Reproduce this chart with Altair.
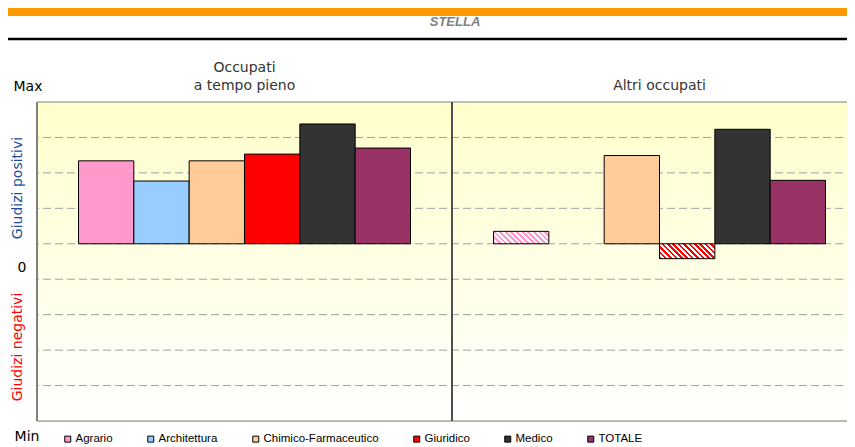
import altair as alt
import pandas as pd

# ---------------- data ----------------
categories = ["Agrario", "Architettura", "Chimico-Farmaceutico", "Giuridico", "Medico", "TOTALE"]
colors = ["#FF99CC", "#99CCFF", "#FFCC99", "#FF0000", "#333333", "#993366"]
panel_keys = ["Occupati a tempo pieno", "Altri occupati"]
panel_titles = ["Occupati\na tempo pieno", "Altri occupati"]
values_pieno = [2.34, 1.77, 2.34, 2.53, 3.38, 2.70]
values_altri = [0.35, None, 2.49, -0.42, 3.23, 1.79]
hatched_altri = ["Agrario", "Giuridico"]
grid_values = [-4, -3, -2, -1, 0, 1, 2, 3]
y_min, y_max = -5, 4

main_title = "STELLA"
label_max = "Max"
label_zero = "0"
label_min = "Min"
label_pos = "Giudizi positivi"
label_neg = "Giudizi negativi"

# ---------------- layout ----------------
PANEL_W = 415
W, H = 2 * PANEL_W, 319          # plot runs past the right edge of the canvas, as in the original
unit_px = H / (y_max - y_min)
bar_w = PANEL_W / (len(categories) + 1.5)
FONT = "DejaVu Sans"
LEG_FONT = "Liberation Sans"

rows = []
for pk, vals in zip(panel_keys, [values_pieno, values_altri]):
    for c, v in zip(categories, vals):
        if v is None:
            continue
        hatched = (pk == panel_keys[1]) and (c in hatched_altri)
        rows.append({"panel": pk, "category": c, "value": v, "hatched": hatched})
bars = pd.DataFrame(rows)
panels = pd.DataFrame({"panel": panel_keys, "title": panel_titles})
grid = pd.DataFrame({"v": grid_values})
borders = pd.DataFrame({"v": [y_min, y_max]})
one = pd.DataFrame({"a": [0]})

x_scale = alt.Scale(domain=panel_keys, paddingInner=0, paddingOuter=0)
xo_scale = alt.Scale(domain=categories, paddingInner=0, paddingOuter=0.75)
y_scale = alt.Scale(domain=[y_min, y_max], nice=False, zero=False)
color_scale = alt.Scale(domain=categories, range=colors)

X = alt.X("panel:N", scale=x_scale, axis=None)
XO = alt.XOffset("category:N", scale=xo_scale)
Y = alt.Y("value:Q", scale=y_scale, axis=None)

bg = alt.Chart(one).mark_rect(
    fill=alt.LinearGradient(gradient="linear", x1=0, y1=0, x2=0, y2=1,
                            stops=[alt.GradientStop(offset=0, color="#FFFFCC"),
                                   alt.GradientStop(offset=1, color="#FFFFFF")])
).encode(x=alt.value(0), x2=alt.value(W), y=alt.value(0), y2=alt.value(H))

grid_layer = alt.Chart(grid).mark_rule(color="#A0A0A0", strokeWidth=1, strokeDash=[8, 4]).encode(
    y=alt.Y("v:Q", scale=y_scale, axis=None))

border_layer = alt.Chart(borders).mark_rule(color="#A8A89C", strokeWidth=1.5).encode(
    y=alt.Y("v:Q", scale=y_scale, axis=None))

left_axis = alt.Chart(one).mark_rule(color="#808080", strokeWidth=2).encode(
    x=alt.value(0), y=alt.value(0), y2=alt.value(H))

sep = alt.Chart(panels.iloc[1:]).mark_rule(color="#505050", strokeWidth=2).encode(
    x=alt.X("panel:N", scale=x_scale, axis=None, bandPosition=0))

solid = alt.Chart(bars).transform_filter("!datum.hatched").mark_bar(
    stroke="#000000", strokeWidth=1).encode(
    x=X, xOffset=XO, y=Y, y2=alt.datum(0),
    color=alt.Color("category:N", scale=color_scale, title=None,
                    legend=alt.Legend(orient="none", legendX=25, legendY=331, direction="horizontal",
                                      symbolType="square", symbolSize=36, symbolStrokeColor="#000000",
                                      symbolStrokeWidth=1, labelFontSize=11.5, labelFont=LEG_FONT,
                                      labelColor="#000000", columnPadding=32, labelOffset=2, padding=0))
)


def hatch(c1, c2, w, h, period=5.5):
    s = (w + h) / (w * w + h * h)
    k = max(1, round((w + h) / period))
    stops = []
    for i in range(k):
        stops += [alt.GradientStop(offset=i / k, color=c1),
                  alt.GradientStop(offset=(i + 0.5) / k, color=c1),
                  alt.GradientStop(offset=(i + 0.5) / k, color=c2),
                  alt.GradientStop(offset=(i + 1) / k, color=c2)]
    return alt.LinearGradient(gradient="linear", x1=0, y1=1, x2=s * w, y2=1 - s * h, stops=stops)


hatched_layers = []
hb = bars[bars["hatched"]]
for _, r in hb.iterrows():
    col = colors[categories.index(r["category"])]
    g = hatch(col, "#FFFFFF", bar_w, abs(r["value"]) * unit_px)
    hatched_layers.append(
        alt.Chart(bars).transform_filter(
            f"datum.hatched && datum.category == '{r['category']}'").mark_bar(
            fill=g, stroke="#000000", strokeWidth=1).encode(x=X, xOffset=XO, y=Y, y2=alt.datum(0))
    )

header_layers = []
for i, (pk, t) in enumerate(zip(panel_keys, panel_titles)):
    n_lines = t.count("\n") + 1
    header_layers.append(
        alt.Chart(panels).transform_filter(f"datum.panel == '{pk}'").mark_text(
            lineBreak="\n", baseline="middle", fontSize=14, color="#333333", font=FONT, lineHeight=18
        ).encode(x=alt.X("panel:N", scale=x_scale, axis=None),
                 y=alt.value(-16 - 18 * (n_lines - 1)), text="title:N")
    )


def label(txt, x, y, **kw):
    params = dict(font=FONT, fontSize=14, color="#000000", baseline="middle", align="center")
    params.update(kw)
    return alt.Chart(one).mark_text(text=txt, **params).encode(x=alt.value(x), y=alt.value(y))


orange = alt.Chart(one).mark_rect(color="#FF9900").encode(
    x=alt.value(-29), x2=alt.value(W), y=alt.value(-94), y2=alt.value(-86))
black_line = alt.Chart(one).mark_rule(color="#000000", strokeWidth=2.5).encode(
    x=alt.value(-29), x2=alt.value(W), y=alt.value(-63))

texts = [
    label(main_title, 418, -80, font="Liberation Sans", fontSize=13, fontWeight="bold",
          fontStyle="italic", color="#808080"),
    label(label_max, -9, -15),
    label(label_zero, -15, 166),
    label(label_min, -10, 335),
    label(label_pos, -19, 86, angle=270, color="#1F4F99"),
    label(label_neg, -19, 245, angle=270, color="#FF0000"),
]

chart = alt.layer(
    bg, grid_layer, border_layer, left_axis, sep, solid, *hatched_layers, *header_layers,
    orange, black_line, *texts
).properties(
    width=W, height=H,
    autosize=alt.AutoSizeParams(type="none"),
    # negative right padding: the canvas stops inside the page and the rest of the plot is cut off
    padding={"left": 29, "top": 94, "right": -20, "bottom": 25},
).configure_view(stroke=None).configure(background="#FFFFFF")

chart.save("out.html", embed_options={"renderer": "svg", "actions": False})
